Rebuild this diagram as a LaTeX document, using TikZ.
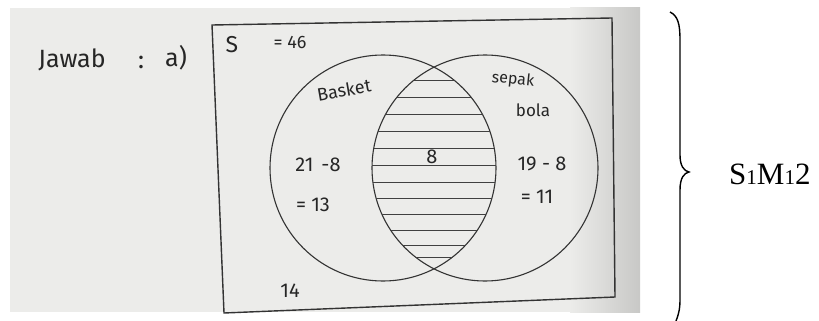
\documentclass[tikz,border=0pt]{standalone}
\usepackage{fontspec}
\setmainfont{Liberation Serif}
\newfontfamily\hand{Fira Sans}
\definecolor{paper}{RGB}{236,236,234}
\definecolor{paperdark}{RGB}{200,200,198}
\begin{document}
\begin{tikzpicture}[x=1pt,y=-1pt,
  ink/.style={draw=black!80,line width=1.1pt},
  hw/.style={text=black!85,font=\hand\fontsize{#1}{#1}\selectfont,inner sep=0pt},
  hw/.default=18]
\useasboundingbox (0,0) rectangle (819,321);
% photo background
\fill[paper] (10,8) rectangle (570,312);
\shade[left color=paper,right color=paperdark] (570,8) rectangle (640,312);
% universe rectangle
\coordinate (tl) at (212,25);
\coordinate (tr) at (612,18);
\coordinate (br) at (615,297);
\coordinate (bl) at (224,313);
\draw[ink,line width=1.4pt] (tl) -- (tr) -- (br) -- (bl) -- cycle;
% circles
\coordinate (cA) at (383,168);
\coordinate (cB) at (485,168);
\draw[ink] (cA) circle[radius=113];
\draw[ink] (cB) circle[radius=113];
% hatching of intersection
\begin{scope}
  \clip (cA) circle[radius=113];
  \clip (cB) circle[radius=113];
  \foreach \y in {63,80,97,114,131,148,165,182,198,214,230,245,257}
    \draw[black!75,line width=0.9pt] (360,\y) -- (510,\y);
\end{scope}
% texts
\node[hw=25] (jawab) at (72,60) {Jawab};
\node[hw=25] (colon) at (141,62) {:};
\node[hw=25] (a) at (176,58) {a)};
\node[hw=23] (S) at (232,45) {S};
\node[hw=18] (S46) at (290,42) {= 46};
\node[hw=18,rotate=10] (basket) at (344,90) {Basket};
\node[hw=16,rotate=-6] (sepak) at (513,80) {sepak};
\node[hw=17] (bola) at (533,110) {bola};
\node[hw=20] (l1) at (318,165) {21\hspace{8pt}-8};
\node[hw=20] (l2) at (313,205) {= 13};
\node[hw=20] (mid) at (432,157) {8};
\node[hw=20] (r1) at (542,164) {19 - 8};
\node[hw=20] (r2) at (537,197) {= 11};
\node[hw=20] (out) at (290,291) {14};
% brace
\coordinate (btop) at (670,12);
\coordinate (btip) at (689,172);
\coordinate (bbot) at (676,321);
\draw[black,line width=1.4pt] (btop) .. controls (678,16) and (680,24) .. (680,40)
  -- (680,155) .. controls (680,166) and (684,171) .. (btip)
  .. controls (684,173) and (680,178) .. (680,190)
  -- (680,300) .. controls (680,310) and (678,316) .. (bbot);
\node[font=\fontsize{31}{31}\selectfont,anchor=west,inner sep=0pt] (lab) at (729,174)
  {S{\fontsize{21}{21}\selectfont 1}M{\fontsize{21}{21}\selectfont 1}2};
\end{tikzpicture}
\end{document}
